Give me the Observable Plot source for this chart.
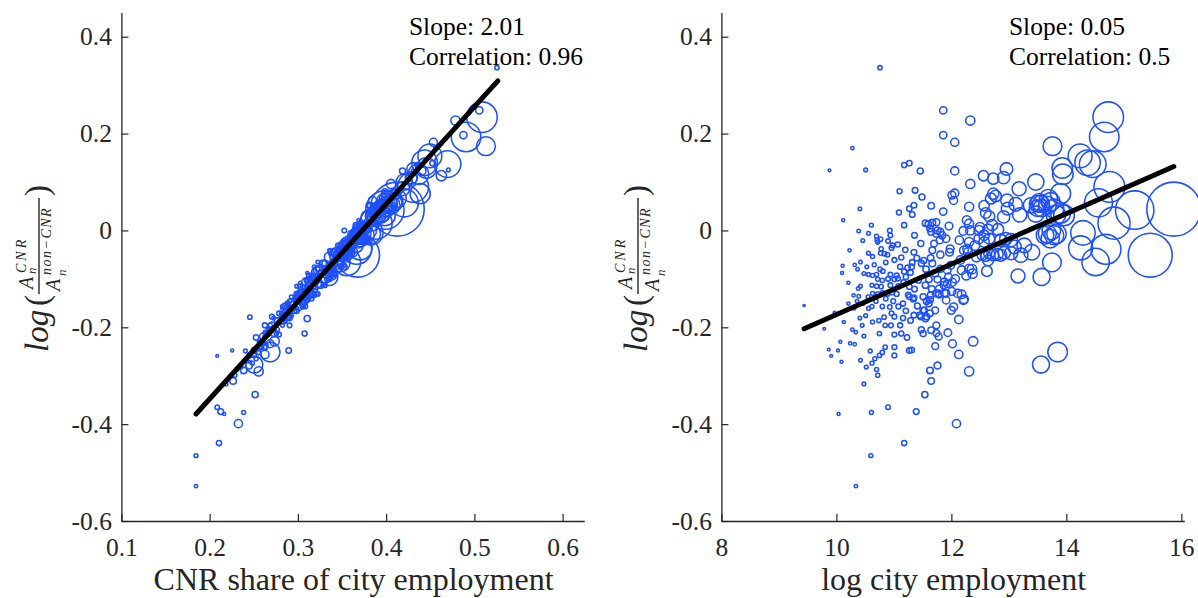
<!DOCTYPE html>
<html><head><meta charset="utf-8">
<script src="https://cdn.jsdelivr.net/npm/d3@7"></script>
<script src="https://cdn.jsdelivr.net/npm/@observablehq/plot@0.6"></script>
<style>
html,body{margin:0;padding:0;background:#fff;}
#wrap{display:flex;width:1198px;height:598px;overflow:hidden;}
#wrap > div{width:599px;height:598px;}
svg{overflow:visible;}
svg text, svg g[aria-label$="axis tick label"] text{font-family:"Liberation Serif","Times New Roman",serif !important;font-variant:normal !important;}
</style></head>
<body><div id="wrap"><div id="left"></div><div id="right"></div></div>
<script>
// ---- city data: log employment, log(A_CNR / A_nonCNR), CNR share of employment ----
const logEmp = [
10.75,11.85,12.32,11.85,12.05,10.27,9.87,10.50,11.17,11.26,
11.45,12.05,12.55,12.95,12.90,13.75,14.72,14.65,14.23,14.36,
14.45,13.92,13.93,13.46,13.17,12.32,14.74,14.55,13.89,13.68,
13.52,13.56,13.95,15.18,15.86,14.82,14.28,14.24,14.50,14.68,
15.45,13.74,13.56,13.15,13.73,13.62,13.82,13.46,13.38,13.49,
13.18,12.90,12.96,13.11,12.72,12.68,12.56,12.65,12.80,13.03,
13.09,13.26,13.39,13.20,13.03,12.61,12.63,12.43,12.30,12.32,
12.47,12.56,12.26,12.30,12.05,12.00,12.03,11.73,11.59,11.64,
11.48,11.36,11.09,11.34,11.26,11.08,11.17,10.92,10.93,10.69,
10.70,10.77,10.83,10.97,11.06,11.19,11.35,11.46,11.54,11.73,
11.90,11.96,12.13,12.28,10.22,10.41,10.10,10.09,10.20,10.31,
10.52,10.62,10.47,10.75,10.80,10.89,11.10,11.17,11.30,11.47,
11.55,11.66,11.71,11.87,11.94,12.06,12.17,12.25,12.35,11.42,
11.54,11.26,11.07,10.93,10.77,10.69,10.61,10.41,10.29,10.54,
11.77,11.90,12.10,11.50,11.26,9.43,9.78,9.96,10.12,10.06,
9.86,9.90,10.02,10.08,10.23,10.31,10.27,10.33,10.44,10.47,
10.41,10.51,10.47,10.58,10.61,10.66,10.69,10.71,10.74,10.79,
10.84,10.74,10.73,10.82,10.84,10.62,10.61,10.79,10.92,11.07,
11.00,10.94,11.10,11.00,11.12,11.22,11.00,11.00,11.26,11.34,
11.44,11.52,11.54,11.47,11.50,11.60,11.62,11.71,11.73,11.77,
11.71,11.90,11.93,11.99,12.01,12.03,12.12,12.12,12.20,12.37,
12.30,11.75,11.62,11.64,11.53,11.38,10.89,10.60,10.03,12.08,
11.17,10.59,10.33,13.55,13.84,11.78,11.87,12.17,12.21,11.64,
11.73,11.30,11.24,11.33,11.56,11.62,11.50,11.46,11.56,11.28,
10.40,10.11,10.76,10.71,10.89,10.76,10.88,10.95,10.55,10.36,
10.55,10.62,10.69,10.93,11.04,10.71,10.79,11.00,11.06,10.37,
10.38,10.62,10.71,10.79,10.88,10.96,11.04,12.76,12.59,12.97,
11.31,11.66,11.75,11.62,11.64,11.80,11.83,11.79,12.30,12.49,
12.63,12.70,12.47,12.56,12.65,11.97,12.21,12.27,12.53,12.59,
12.65,12.72,12.79,12.85,12.91,12.30,12.36,11.98,11.92,11.80,
12.01,11.92,11.86,11.78,11.72,11.63,11.34,11.34,11.39,11.31,
11.23,11.28,11.20,11.16,11.69,11.66,11.63,11.51,11.80,12.72,
13.55,13.49,13.66,13.72,13.78,13.89,13.81,13.66,13.78,13.71,
12.94,12.85,11.75,10.35,10.45,10.55,10.68,10.85,10.98,11.15,
11.20,11.40,10.50,10.95,11.15,10.30,10.20,10.40,10.45,10.55,
10.38,10.60,10.85,11.00,11.12,10.65,11.35,11.60,11.65,12.00,
12.15,12.40,12.20,11.95,11.85];

const ratio = [
0.337,0.249,0.228,0.198,0.183,0.171,0.125,0.126,0.136,0.140,
0.124,0.124,0.114,0.128,0.110,0.175,0.235,0.194,0.155,0.141,
0.138,0.130,0.117,0.101,0.087,0.097,0.091,0.058,0.077,0.067,
0.060,0.047,0.032,0.043,0.045,0.016,-0.004,-0.035,-0.064,-0.038,
-0.050,-0.065,-0.095,-0.093,0.001,-0.009,-0.006,0.035,0.053,0.056,
0.033,0.029,0.063,0.055,0.077,0.067,0.052,0.030,0.003,-0.019,
-0.033,-0.030,-0.044,-0.050,-0.046,-0.083,-0.061,-0.054,-0.023,0.001,
0.001,-0.009,0.022,0.050,0.078,0.074,0.063,0.018,0.014,0.052,
0.070,0.084,0.082,0.053,0.046,0.038,0.012,0.001,-0.009,-0.011,
-0.019,-0.037,-0.047,-0.030,-0.028,-0.039,-0.009,-0.026,0.016,-0.006,
-0.016,-0.044,-0.019,-0.044,-0.040,-0.064,-0.072,-0.087,-0.107,-0.070,
-0.074,-0.053,-0.088,-0.079,-0.083,-0.099,-0.074,-0.084,-0.074,-0.067,
-0.079,-0.067,-0.088,-0.105,-0.095,-0.099,-0.081,-0.092,-0.079,-0.102,
-0.112,-0.115,-0.114,-0.112,-0.115,-0.114,-0.112,-0.114,-0.133,-0.136,
-0.129,-0.129,-0.129,-0.136,-0.136,-0.154,-0.202,-0.169,-0.188,-0.229,
-0.245,-0.258,-0.247,-0.270,-0.232,-0.234,-0.204,-0.209,-0.195,-0.217,
-0.267,-0.281,-0.316,-0.248,-0.273,-0.264,-0.286,-0.298,-0.257,-0.251,
-0.240,-0.212,-0.185,-0.178,-0.195,-0.188,-0.156,-0.156,-0.157,-0.156,
-0.177,-0.195,-0.195,-0.214,-0.212,-0.220,-0.240,-0.257,-0.247,-0.174,
-0.174,-0.164,-0.181,-0.204,-0.212,-0.150,-0.170,-0.164,-0.195,-0.218,
-0.238,-0.143,-0.210,-0.164,-0.233,-0.157,-0.183,-0.255,-0.143,-0.228,
-0.290,-0.278,-0.288,-0.310,-0.338,-0.373,-0.364,-0.375,-0.378,-0.398,
-0.438,-0.464,-0.527,-0.276,-0.250,-0.131,-0.128,-0.131,-0.141,-0.205,
-0.211,-0.246,-0.132,-0.141,-0.145,-0.142,-0.164,-0.177,-0.177,-0.185,
0.046,0.022,-0.017,-0.023,-0.021,-0.046,-0.049,-0.035,-0.046,-0.079,
-0.090,-0.092,-0.090,-0.090,-0.092,-0.100,-0.102,-0.100,-0.098,-0.119,
-0.135,-0.129,-0.130,-0.128,-0.130,-0.127,-0.130,0.072,0.037,0.046,
0.034,0.017,0.001,0.005,-0.002,-0.002,-0.009,-0.019,0.015,0.007,
0.003,0.012,-0.016,-0.023,-0.016,-0.037,-0.040,-0.037,-0.050,-0.052,
-0.047,-0.050,-0.048,-0.050,-0.045,-0.078,-0.088,-0.071,-0.081,-0.078,
-0.106,-0.109,-0.112,-0.119,-0.129,-0.133,-0.138,-0.044,-0.056,-0.065,
-0.076,-0.086,-0.095,-0.106,-0.026,-0.040,-0.056,-0.061,-0.049,0.108,
0.056,0.047,0.053,0.060,0.046,0.037,0.033,-0.006,-0.009,-0.016,
-0.016,-0.019,-0.100,-0.145,-0.150,-0.160,-0.145,-0.140,-0.145,-0.150,
-0.165,-0.155,-0.175,-0.170,-0.180,-0.160,-0.150,-0.180,-0.020,-0.005,
0.000,0.012,-0.065,-0.060,-0.055,-0.070,-0.120,-0.100,-0.120,-0.125,
-0.060,-0.030,0.000,0.010,0.040];

const share = [
0.525,0.505,0.478,0.487,0.453,0.455,0.430,0.470,0.435,0.452,
0.418,0.440,0.462,0.430,0.428,0.5125,0.508,0.490,0.449,0.443,
0.469,0.445,0.436,0.420,0.418,0.405,0.430,0.420,0.438,0.412,
0.408,0.400,0.398,0.398,0.412,0.388,0.382,0.370,0.355,0.366,
0.367,0.348,0.335,0.330,0.378,0.368,0.382,0.395,0.398,0.403,
0.385,0.378,0.396,0.402,0.410,0.398,0.395,0.382,0.368,0.370,
0.355,0.365,0.355,0.352,0.345,0.338,0.345,0.335,0.362,0.375,
0.368,0.372,0.390,0.390,0.410,0.398,0.384,0.390,0.370,0.382,
0.405,0.415,0.398,0.380,0.395,0.385,0.365,0.352,0.368,0.360,
0.352,0.350,0.358,0.345,0.362,0.345,0.368,0.352,0.385,0.360,
0.378,0.338,0.372,0.362,0.335,0.322,0.352,0.310,0.302,0.352,
0.318,0.358,0.342,0.322,0.338,0.312,0.348,0.318,0.352,0.330,
0.345,0.328,0.340,0.308,0.335,0.315,0.322,0.338,0.325,0.310,
0.325,0.302,0.318,0.330,0.305,0.310,0.328,0.298,0.315,0.292,
0.315,0.302,0.318,0.298,0.310,0.290,0.265,0.280,0.285,0.255,
0.255,0.208,0.225,0.245,0.262,0.258,0.270,0.262,0.282,0.262,
0.240,0.235,0.218,0.240,0.248,0.252,0.230,0.228,0.250,0.255,
0.262,0.275,0.285,0.245,0.268,0.278,0.282,0.308,0.290,0.305,
0.270,0.290,0.262,0.278,0.307,0.252,0.258,0.245,0.289,0.290,
0.282,0.295,0.310,0.275,0.265,0.305,0.285,0.290,0.270,0.260,
0.262,0.298,0.272,0.288,0.268,0.300,0.282,0.262,0.305,0.273,
0.255,0.244,0.238,0.226,0.251,0.212,0.208,0.238,0.216,0.232,
0.210,0.184,0.184,0.250,0.268,0.315,0.305,0.312,0.300,0.268,
0.272,0.250,0.308,0.310,0.298,0.302,0.290,0.282,0.288,0.276,
0.382,0.368,0.362,0.352,0.365,0.345,0.352,0.358,0.338,0.330,
0.338,0.315,0.335,0.342,0.312,0.332,0.310,0.335,0.318,0.302,
0.312,0.298,0.318,0.302,0.322,0.310,0.298,0.402,0.390,0.395,
0.382,0.385,0.368,0.380,0.372,0.368,0.362,0.362,0.378,0.372,
0.375,0.385,0.362,0.360,0.368,0.352,0.358,0.350,0.345,0.350,
0.352,0.348,0.355,0.342,0.352,0.335,0.332,0.338,0.330,0.335,
0.318,0.322,0.312,0.318,0.308,0.305,0.300,0.352,0.342,0.338,
0.335,0.325,0.322,0.318,0.362,0.348,0.345,0.342,0.352,0.428,
0.402,0.398,0.405,0.408,0.395,0.392,0.388,0.372,0.375,0.368,
0.365,0.362,0.322,0.310,0.288,0.298,0.290,0.315,0.302,0.288,
0.298,0.285,0.292,0.278,0.290,0.282,0.308,0.272,0.360,0.368,
0.370,0.375,0.340,0.342,0.345,0.335,0.310,0.322,0.312,0.310,
0.345,0.360,0.372,0.378,0.390];

// fitted lines (endpoints)
const fitLeftX = [0.184, 0.526];
const fitLeftY = [-0.378, 0.310];
const fitRightX = [9.43, 15.86];
const fitRightY = [-0.202, 0.133];

// axes & text
const xTicksLeft = [0.1, 0.2, 0.3, 0.4, 0.5, 0.6];
const xTicksRight = [8, 10, 12, 14, 16];
const yTicks = [-0.6, -0.4, -0.2, 0, 0.2, 0.4];
const xDomainLeft = [0.1, 0.625];
const xDomainRight = [8, 16.06];
const yDomain = [-0.6, 0.449];
const xLabels = ["CNR share of city employment", "log city employment"];
const slopes = ["2.01", "0.05"];
const correlations = ["0.96", "0.5"];

const BLUE = "#1e50ff";
const AXIS = "#262626";
const FONT = "Liberation Serif, Times New Roman, serif";

const cities = logEmp.map((L, i) => ({logEmp: L, emp: Math.exp(L), ratio: ratio[i], share: share[i]}));
const maxEmp = Math.exp(d3.max(logEmp));

function panel({xKey, xDomain, xTicks, marginLeft, marginRight, xLabel, fitX, fitY, slope, corr}) {
  const W = 599, H = 598, mt = 13, mb = 77;
  const frameW = W - marginLeft - marginRight, frameH = H - mt - mb;
  const fit = fitX.map((x, i) => ({x, y: fitY[i]}));
  const svg = Plot.plot({
    width: W, height: H, marginLeft, marginRight, marginTop: mt, marginBottom: mb,
    style: {fontFamily: FONT, fontSize: "25.5px", color: AXIS, background: "white", overflow: "visible"},
    x: {domain: xDomain},
    y: {domain: yDomain},
    r: {type: "sqrt", domain: [0, maxEmp], range: [0, 27]},
    marks: [
      Plot.dot(cities, {x: xKey, y: "ratio", r: "emp", stroke: BLUE, fill: "none", strokeWidth: 1.55}),
      Plot.line(fit, {x: "x", y: "y", stroke: "black", strokeWidth: 5, strokeLinecap: "round"}),
      Plot.ruleY([yDomain[0]], {stroke: AXIS, strokeWidth: 1.3}),
      Plot.ruleX([xDomain[0]], {stroke: AXIS, strokeWidth: 1.3}),
      Plot.tickX(xTicks, {x: d => d, insetTop: frameH - 7, stroke: AXIS, strokeWidth: 1.2}),
      Plot.tickY(yTicks, {y: d => d, insetRight: frameW - 7, stroke: AXIS, strokeWidth: 1.2}),
      Plot.axisX({ticks: xTicks, tickSize: 0, tickPadding: 16, tickFormat: d => String(d), label: null, fontSize: 25.5, fontFamily: FONT, fill: AXIS}),
      Plot.axisY({ticks: yTicks, tickSize: 0, tickPadding: 10, tickFormat: d => String(d), label: null, fontSize: 25.5, fontFamily: FONT, fill: AXIS}),
      Plot.text([`Slope: ${slope}\nCorrelation: ${corr}`], {frameAnchor: "top-left", textAnchor: "start", lineAnchor: "top", dx: 287, dy: 1, fontSize: 25.5, fontFamily: FONT, lineHeight: 1.15, fill: "black"}),
      Plot.text([xLabel], {frameAnchor: "bottom", textAnchor: "middle", lineAnchor: "top", dy: 46, fontSize: 32, fontFamily: FONT, fill: AXIS})
    ]
  });
  addYLabel(svg, 48, 267);
  return svg;
}

function addYLabel(svgNode, cx, cy) {
  const g = d3.select(svgNode).append("g")
    .attr("transform", `translate(${cx},${cy}) rotate(-90)`)
    .attr("fill", AXIS).attr("text-anchor", "start")
    .style("font-family", FONT);
  const t = (x, y, size, str, italic, ls) => {
    const el = g.append("text").attr("x", x).attr("y", y).attr("font-size", size).attr("text-anchor", "start").text(str);
    if (italic) el.attr("font-style", "italic");
    if (ls) el.attr("letter-spacing", ls);
  };
  t(-85, 0, 33, "log", true);
  t(-39, 0, 33, "(", false);
  g.append("line").attr("x1", -27).attr("x2", 69).attr("y1", -9).attr("y2", -9).attr("stroke", AXIS).attr("stroke-width", 1.4);
  // numerator  A_n^{CNR}
  t(-22, -15, 20, "A", true);
  t(-6, -22, 14, "CNR", true, 3);
  t(-7, -12, 13, "n", true);
  // denominator  A_n^{non-CNR}
  t(-24, 12, 20, "A", true);
  t(-8, 3, 14, "non\u2212CNR", true, 1.5);
  t(-9, 18, 13, "n", true);
  t(71, 0, 33, ")", false);
}

document.getElementById("left").appendChild(panel({
  xKey: "share", xDomain: xDomainLeft, xTicks: xTicksLeft, marginLeft: 121.4, marginRight: 599 - 584.7,
  xLabel: xLabels[0], fitX: fitLeftX, fitY: fitLeftY, slope: slopes[0], corr: correlations[0]
}));
document.getElementById("right").appendChild(panel({
  xKey: "logEmp", xDomain: xDomainRight, xTicks: xTicksRight, marginLeft: 721.4 - 599, marginRight: 1198 - 1184.8,
  xLabel: xLabels[1], fitX: fitRightX, fitY: fitRightY, slope: slopes[1], corr: correlations[1]
}));
</script>
</body></html>
